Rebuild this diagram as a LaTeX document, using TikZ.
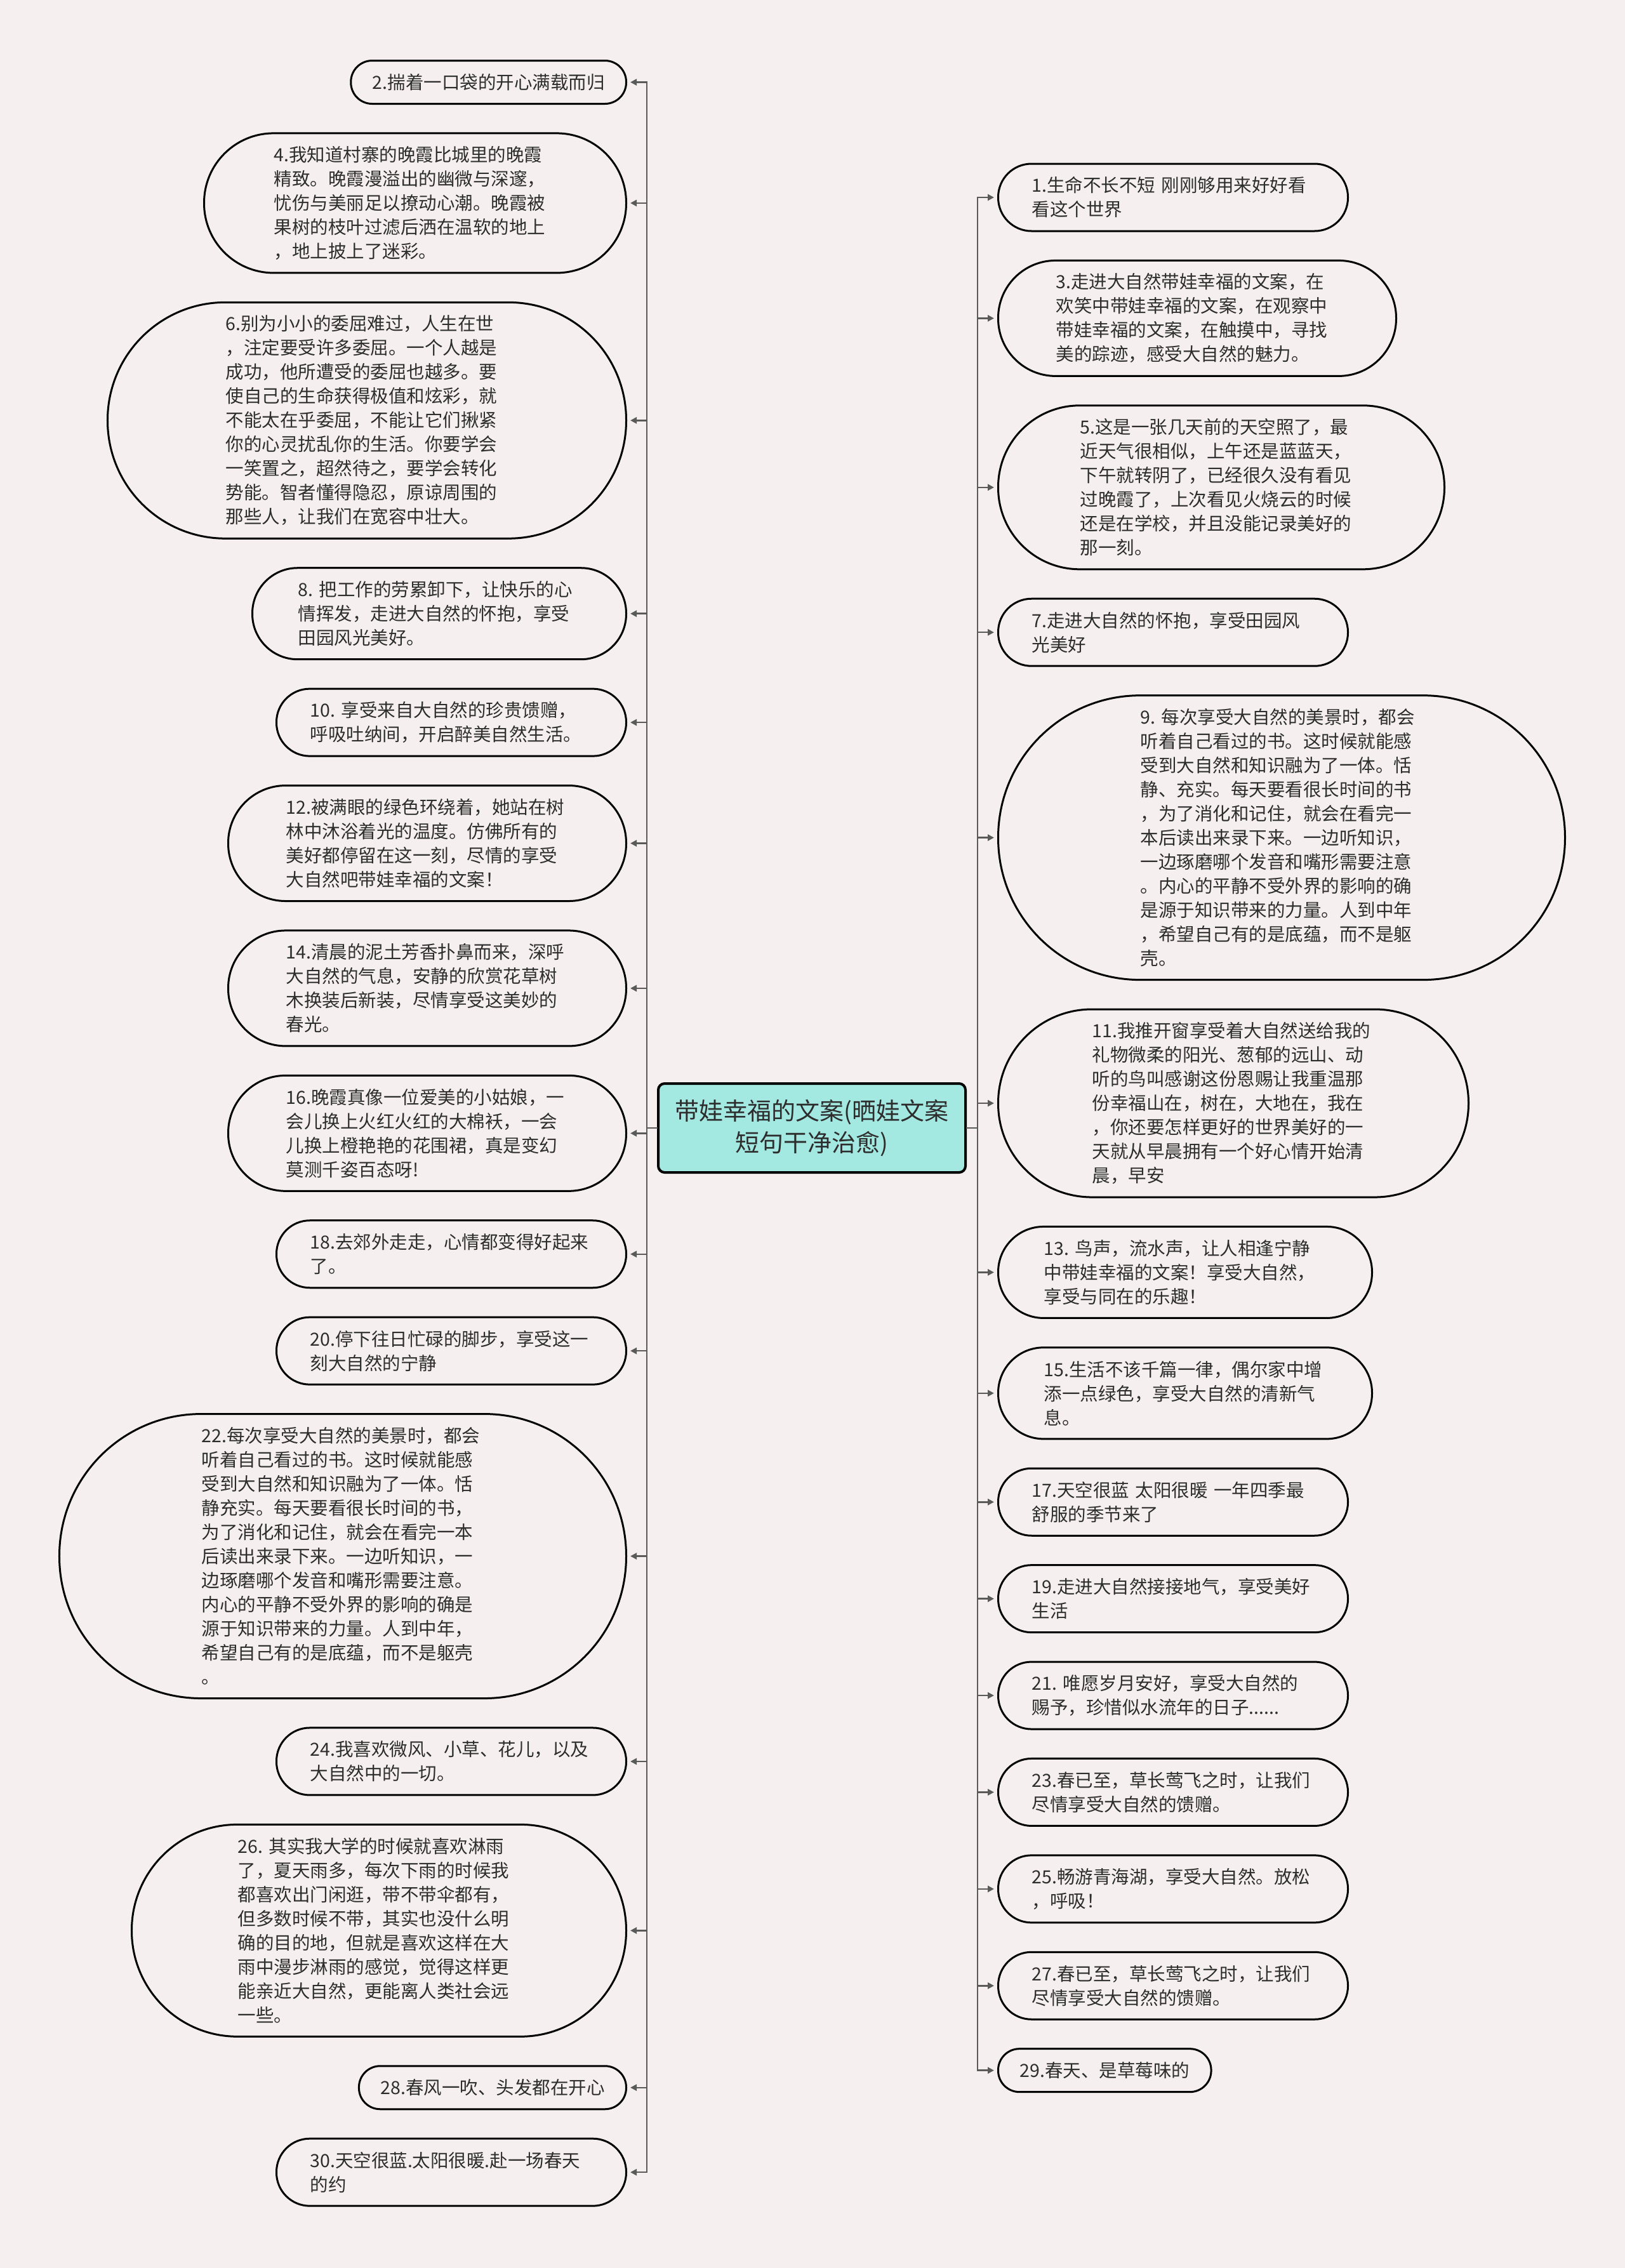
\documentclass[tikz,border=0pt]{standalone}
\usepackage{fontspec}
\newfontfamily\cjk{Noto Sans CJK SC}
\usetikzlibrary{positioning,arrows.meta}

\definecolor{bgc}{RGB}{245,239,239}
\definecolor{rootc}{RGB}{163,233,225}
\definecolor{linec}{RGB}{90,90,90}
\definecolor{txtc}{RGB}{45,45,45}

\begin{document}
\begin{tikzpicture}[
  node distance=0.434cm and 0cm,
  every node/.style={font=\cjk\fontsize{0.285cm}{0.38cm}\selectfont, text=txtc},
  bub/.style  ={draw=black, line width=0.03cm, fill=bgc, align=left,
                minimum height={#1*0.38cm+0.3cm}, inner ysep=0.08cm,
                inner xsep={(#1*0.38cm+0.3cm)/2},
                rounded corners={(#1*0.38cm+0.3cm)/2-0.005cm}},
  multi/.style={bub=#1, text width=4.45cm},
  root/.style ={draw=black, line width=0.04cm, fill=rootc, rounded corners=0.1cm,
                minimum width=4.84cm, minimum height=1.4cm, align=center,
                font=\cjk\fontsize{0.38cm}{0.5cm}\selectfont},
  link/.style ={draw=linec, line width=0.025cm, line cap=rect},
  arr/.style  ={link, -{Triangle[length=0.1cm, width=0.1cm]}, shorten >=0.05cm}]

\useasboundingbox (0,0) rectangle (25.6,-35.73);
\fill[bgc] (0,0) rectangle (25.6,-35.73);

\node[root] (root) at (12.79,-17.77) {带娃幸福的文案(晒娃文案\\短句干净治愈)};

%% left column, right edges lined up
\node[bub=1, anchor=north east] (n2) at (9.88,-0.94) {2.揣着一口袋的开心满载而归};
\node[multi=5, below left=of n2.south east] (n4) {4.我知道村寨的晚霞比城里的晚霞\\精致。晚霞漫溢出的幽微与深邃，\\忧伤与美丽足以撩动心潮。晚霞被\\果树的枝叶过滤后洒在温软的地上\\，地上披上了迷彩。};
\node[multi=9, below left=of n4.south east] (n6) {6.别为小小的委屈难过，人生在世\\，注定要受许多委屈。一个人越是\\成功，他所遭受的委屈也越多。要\\使自己的生命获得极值和炫彩，就\\不能太在乎委屈，不能让它们揪紧\\你的心灵扰乱你的生活。你要学会\\一笑置之，超然待之，要学会转化\\势能。智者懂得隐忍，原谅周围的\\那些人，让我们在宽容中壮大。};
\node[multi=3, below left=of n6.south east] (n8) {8.~把工作的劳累卸下，让快乐的心\\情挥发，走进大自然的怀抱，享受\\田园风光美好。};
\node[multi=2, below left=of n8.south east] (n10) {10.~享受来自大自然的珍贵馈赠，\\呼吸吐纳间，开启醉美自然生活。};
\node[multi=4, below left=of n10.south east] (n12) {12.被满眼的绿色环绕着，她站在树\\林中沐浴着光的温度。仿佛所有的\\美好都停留在这一刻，尽情的享受\\大自然吧带娃幸福的文案！};
\node[multi=4, below left=of n12.south east] (n14) {14.清晨的泥土芳香扑鼻而来，深呼\\大自然的气息，安静的欣赏花草树\\木换装后新装，尽情享受这美妙的\\春光。};
\node[multi=4, below left=of n14.south east] (n16) {16.晚霞真像一位爱美的小姑娘，一\\会儿换上火红火红的大棉袄，一会\\儿换上橙艳艳的花围裙，真是变幻\\莫测千姿百态呀!};
\node[multi=2, below left=of n16.south east] (n18) {18.去郊外走走，心情都变得好起来\\了。};
\node[multi=2, below left=of n18.south east] (n20) {20.停下往日忙碌的脚步，享受这一\\刻大自然的宁静};
\node[multi=11, below left=of n20.south east] (n22) {22.每次享受大自然的美景时，都会\\听着自己看过的书。这时候就能感\\受到大自然和知识融为了一体。恬\\静充实。每天要看很长时间的书，\\为了消化和记住，就会在看完一本\\后读出来录下来。一边听知识，一\\边琢磨哪个发音和嘴形需要注意。\\内心的平静不受外界的影响的确是\\源于知识带来的力量。人到中年，\\希望自己有的是底蕴，而不是躯壳\\。};
\node[multi=2, below left=of n22.south east] (n24) {24.我喜欢微风、小草、花儿，以及\\大自然中的一切。};
\node[multi=8, below left=of n24.south east] (n26) {26.~其实我大学的时候就喜欢淋雨\\了，夏天雨多，每次下雨的时候我\\都喜欢出门闲逛，带不带伞都有，\\但多数时候不带，其实也没什么明\\确的目的地，但就是喜欢这样在大\\雨中漫步淋雨的感觉，觉得这样更\\能亲近大自然，更能离人类社会远\\一些。};
\node[bub=1, below left=of n26.south east] (n28) {28.春风一吹、头发都在开心};
\node[multi=2, below left=of n28.south east] (n30) {30.天空很蓝.太阳很暖.赴一场春天\\的约};

%% right column, left edges lined up
\node[multi=2, anchor=north west] (n1) at (15.71,-2.565) {1.生命不长不短~刚刚够用来好好看\\看这个世界};
\node[multi=4, below right=of n1.south west] (n3) {3.走进大自然带娃幸福的文案，在\\欢笑中带娃幸福的文案，在观察中\\带娃幸福的文案，在触摸中，寻找\\美的踪迹，感受大自然的魅力。};
\node[multi=6, below right=of n3.south west] (n5) {5.这是一张几天前的天空照了，最\\近天气很相似，上午还是蓝蓝天，\\下午就转阴了，已经很久没有看见\\过晚霞了，上次看见火烧云的时候\\还是在学校，并且没能记录美好的\\那一刻。};
\node[multi=2, below right=of n5.south west] (n7) {7.走进大自然的怀抱，享受田园风\\光美好};
\node[multi=11, below right=of n7.south west] (n9) {9.~每次享受大自然的美景时，都会\\听着自己看过的书。这时候就能感\\受到大自然和知识融为了一体。恬\\静、充实。每天要看很长时间的书\\，为了消化和记住，就会在看完一\\本后读出来录下来。一边听知识，\\一边琢磨哪个发音和嘴形需要注意\\。内心的平静不受外界的影响的确\\是源于知识带来的力量。人到中年\\，希望自己有的是底蕴，而不是躯\\壳。};
\node[multi=7, below right=of n9.south west] (n11) {11.我推开窗享受着大自然送给我的\\礼物微柔的阳光、葱郁的远山、动\\听的鸟叫感谢这份恩赐让我重温那\\份幸福山在，树在，大地在，我在\\，你还要怎样更好的世界美好的一\\天就从早晨拥有一个好心情开始清\\晨，早安};
\node[multi=3, below right=of n11.south west] (n13) {13.~鸟声，流水声，让人相逢宁静\\中带娃幸福的文案！享受大自然，\\享受与同在的乐趣！};
\node[multi=3, below right=of n13.south west] (n15) {15.生活不该千篇一律，偶尔家中增\\添一点绿色，享受大自然的清新气\\息。};
\node[multi=2, below right=of n15.south west] (n17) {17.天空很蓝~太阳很暖~一年四季最\\舒服的季节来了};
\node[multi=2, below right=of n17.south west] (n19) {19.走进大自然接接地气，享受美好\\生活};
\node[multi=2, below right=of n19.south west] (n21) {21.~唯愿岁月安好，享受大自然的\\赐予，珍惜似水流年的日子......};
\node[multi=2, below right=of n21.south west] (n23) {23.春已至，草长莺飞之时，让我们\\尽情享受大自然的馈赠。};
\node[multi=2, below right=of n23.south west] (n25) {25.畅游青海湖，享受大自然。放松\\，呼吸！};
\node[multi=2, below right=of n25.south west] (n27) {27.春已至，草长莺飞之时，让我们\\尽情享受大自然的馈赠。};
\node[bub=1, below right=of n27.south west] (n29) {29.春天、是草莓味的};

%% trunks
\coordinate (ltrunk) at (10.19,-17.77);
\coordinate (rtrunk) at (15.40,-17.77);
\draw[link] (root.west) -- (ltrunk);
\draw[link] (root.east) -- (rtrunk);
\draw[link] (ltrunk |- n2.east) -- (ltrunk |- n30.east);
\draw[link] (rtrunk |- n1.west) -- (rtrunk |- n29.west);

%% left branches
\draw[arr] (ltrunk |- n2.east)  -- (n2.east);
\draw[arr] (ltrunk |- n4.east)  -- (n4.east);
\draw[arr] (ltrunk |- n6.east)  -- (n6.east);
\draw[arr] (ltrunk |- n8.east)  -- (n8.east);
\draw[arr] (ltrunk |- n10.east) -- (n10.east);
\draw[arr] (ltrunk |- n12.east) -- (n12.east);
\draw[arr] (ltrunk |- n14.east) -- (n14.east);
\draw[arr] (ltrunk |- n16.east) -- (n16.east);
\draw[arr] (ltrunk |- n18.east) -- (n18.east);
\draw[arr] (ltrunk |- n20.east) -- (n20.east);
\draw[arr] (ltrunk |- n22.east) -- (n22.east);
\draw[arr] (ltrunk |- n24.east) -- (n24.east);
\draw[arr] (ltrunk |- n26.east) -- (n26.east);
\draw[arr] (ltrunk |- n28.east) -- (n28.east);
\draw[arr] (ltrunk |- n30.east) -- (n30.east);

%% right branches
\draw[arr] (rtrunk |- n1.west)  -- (n1.west);
\draw[arr] (rtrunk |- n3.west)  -- (n3.west);
\draw[arr] (rtrunk |- n5.west)  -- (n5.west);
\draw[arr] (rtrunk |- n7.west)  -- (n7.west);
\draw[arr] (rtrunk |- n9.west)  -- (n9.west);
\draw[arr] (rtrunk |- n11.west) -- (n11.west);
\draw[arr] (rtrunk |- n13.west) -- (n13.west);
\draw[arr] (rtrunk |- n15.west) -- (n15.west);
\draw[arr] (rtrunk |- n17.west) -- (n17.west);
\draw[arr] (rtrunk |- n19.west) -- (n19.west);
\draw[arr] (rtrunk |- n21.west) -- (n21.west);
\draw[arr] (rtrunk |- n23.west) -- (n23.west);
\draw[arr] (rtrunk |- n25.west) -- (n25.west);
\draw[arr] (rtrunk |- n27.west) -- (n27.west);
\draw[arr] (rtrunk |- n29.west) -- (n29.west);
\end{tikzpicture}
\end{document}
